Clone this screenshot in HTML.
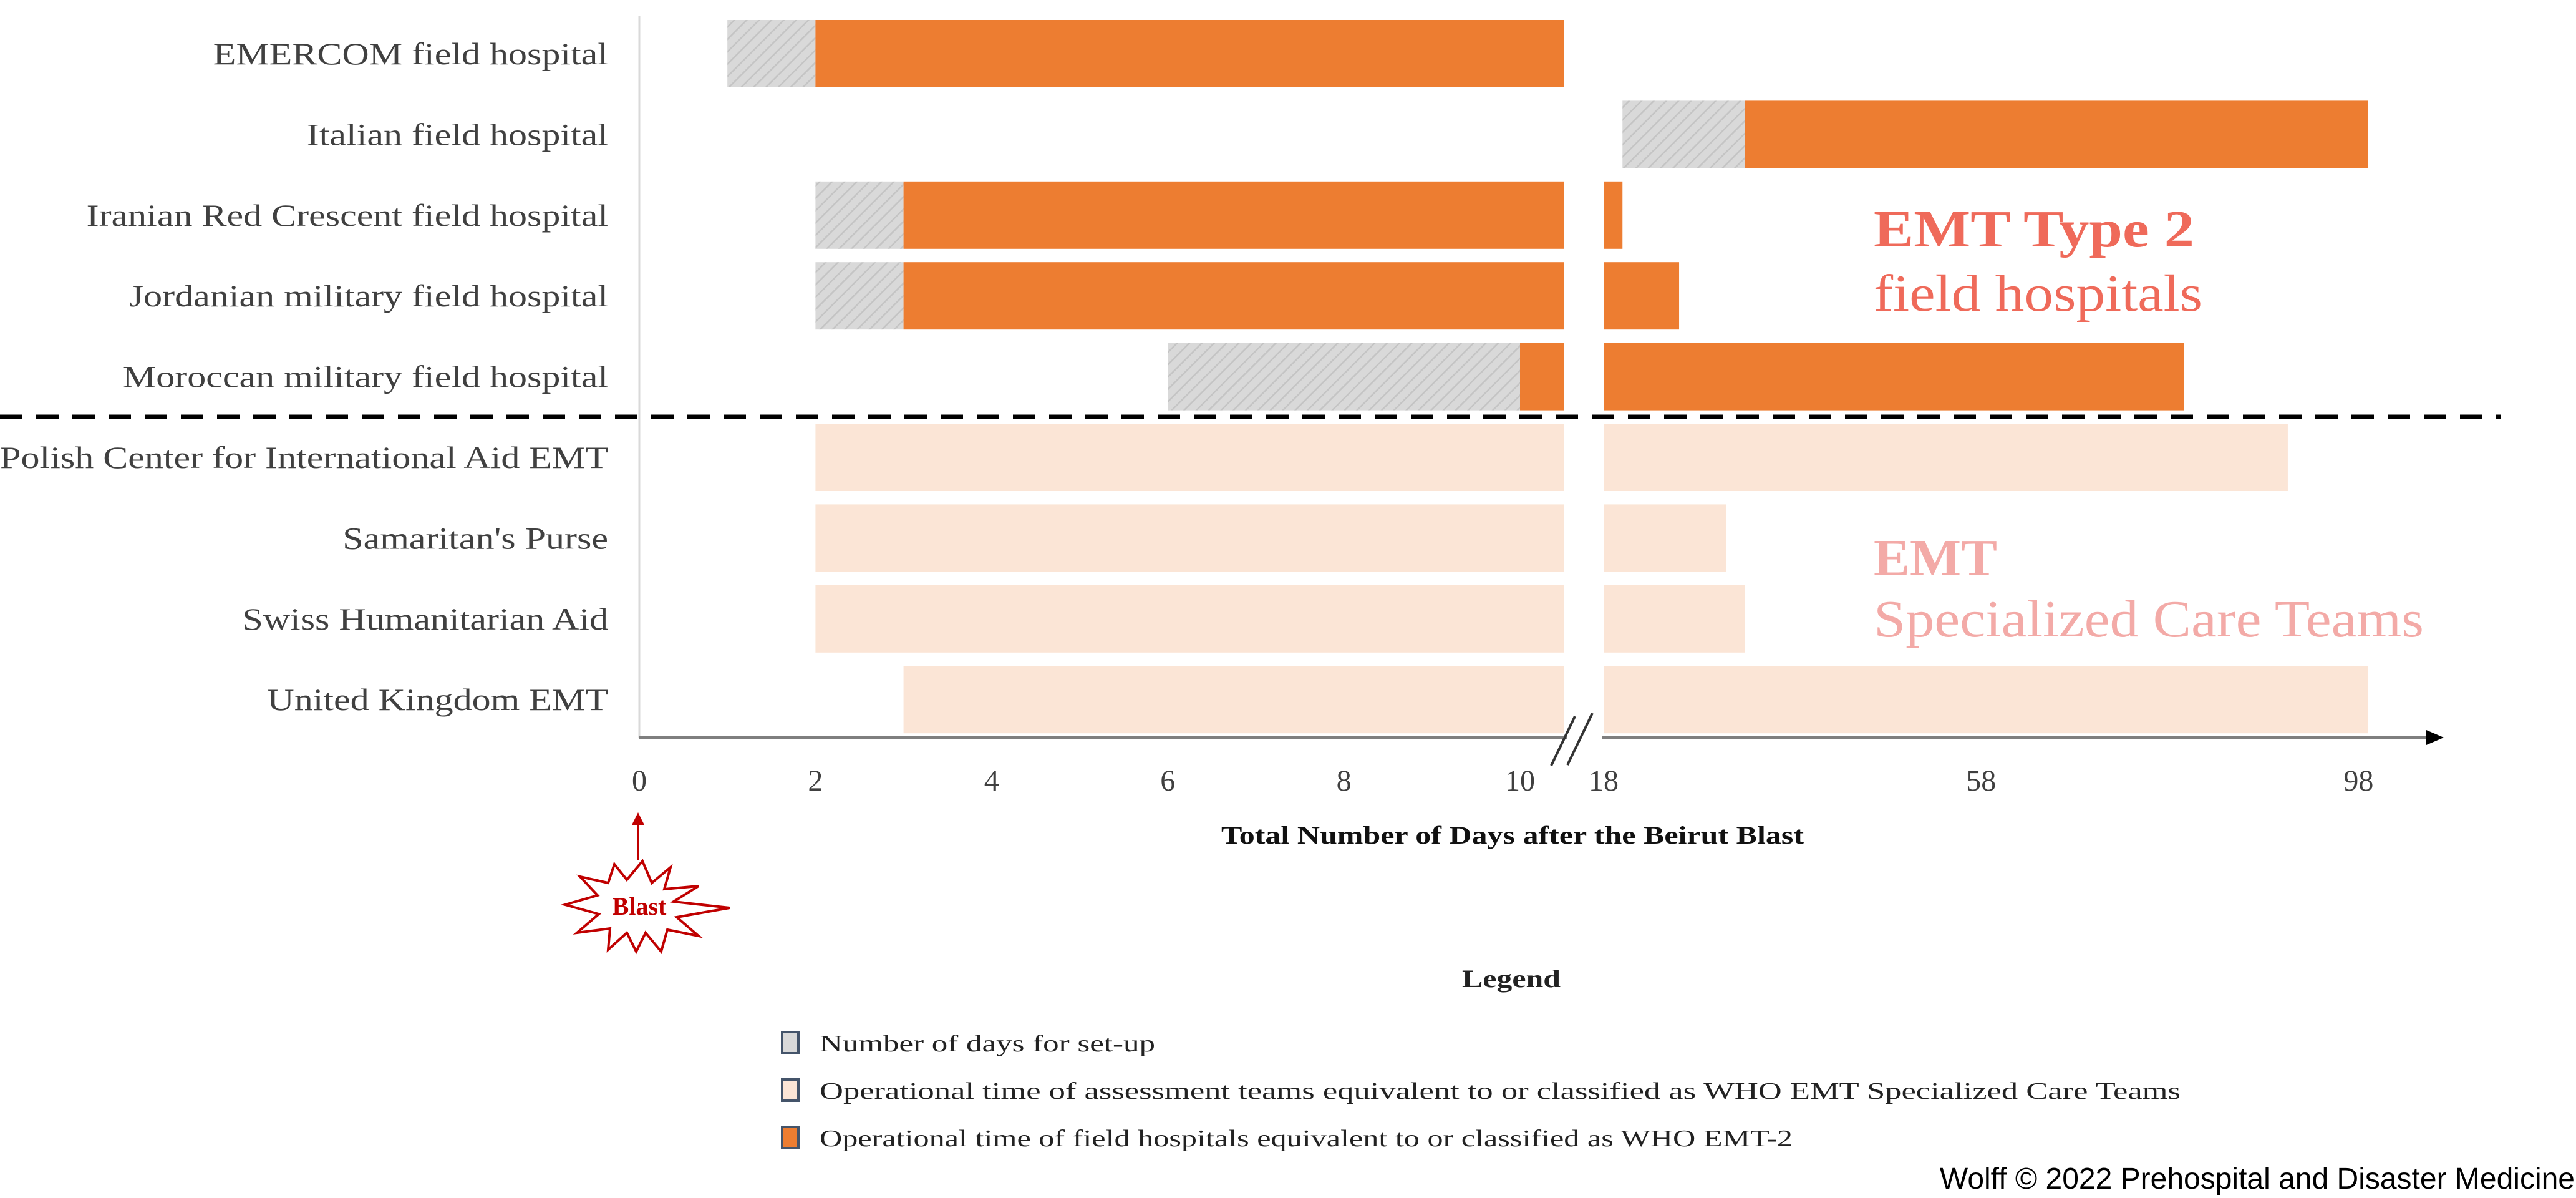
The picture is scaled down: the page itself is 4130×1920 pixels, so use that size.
<!DOCTYPE html>
<html><head><meta charset="utf-8"><style>
html,body{margin:0;padding:0;background:#fff;}
svg{display:block;}
text{font-family:"Liberation Serif","DejaVu Serif",serif;}
</style></head><body>
<svg id="chart" width="4130" height="1920" viewBox="0 0 4130 1920" xmlns="http://www.w3.org/2000/svg">
<defs>
<pattern id="hatch" width="14" height="14" patternUnits="userSpaceOnUse" patternTransform="rotate(45)">
<rect width="14" height="14" fill="#d9d9d9"/><line x1="0" y1="0" x2="0" y2="14" stroke="#c4c4c4" stroke-width="5"/>
</pattern>
</defs>
<line x1="1025" y1="25" x2="1025" y2="1182" stroke="#d9d9d9" stroke-width="3"/>
<g id="bars"></g>
<g id="labels"></g>
<line x1="0" y1="668" x2="4010" y2="668" stroke="#000" stroke-width="7" stroke-dasharray="36,22"/>
<line x1="1025" y1="1182" x2="3900" y2="1182" stroke="#7f7f7f" stroke-width="5"/>
<polygon points="3890,1170 3918,1182 3890,1194" fill="#000"/>
<rect x="2513" y="1170" width="55" height="20" fill="#fff"/>
<line x1="2487" y1="1227" x2="2525" y2="1148" stroke="#333" stroke-width="4"/>
<line x1="2513" y1="1226" x2="2553" y2="1143" stroke="#333" stroke-width="4"/>
<g id="ticks"></g>
<text x="1958" y="1352" font-size="40" font-weight="bold" fill="#111" textLength="934" lengthAdjust="spacingAndGlyphs">Total Number of Days after the Beirut Blast</text>
<text x="3004" y="395" font-size="84" font-weight="bold" fill="#ef6a5a" textLength="514" lengthAdjust="spacingAndGlyphs">EMT Type 2</text>
<text x="3004" y="498" font-size="84" fill="#ef6a5a" textLength="527" lengthAdjust="spacingAndGlyphs">field hospitals</text>
<text x="3004" y="922" font-size="84" font-weight="bold" fill="#f3aaa7" textLength="198" lengthAdjust="spacingAndGlyphs">EMT</text>
<text x="3004" y="1020" font-size="84" fill="#f3aaa7" textLength="882" lengthAdjust="spacingAndGlyphs">Specialized Care Teams</text>
<g>
<line x1="1023" y1="1378" x2="1023" y2="1318" stroke="#c00000" stroke-width="3"/>
<polygon points="1023,1302 1013,1322 1033,1322" fill="#c00000"/>
<polygon points="1030,1380 1045,1415 1075,1390 1065,1425 1120,1420 1080,1445 1170,1455 1085,1470 1120,1500 1070,1490 1060,1525 1035,1495 1020,1525 1005,1495 975,1522 978,1488 925,1495 960,1465 906,1450 958,1435 930,1405 975,1415 985,1385 1005,1410" fill="#fff" stroke="#c00000" stroke-width="4"/>
<text x="1025" y="1466" font-size="40" font-weight="bold" fill="#c00000" text-anchor="middle">Blast</text>
</g>
<text x="2344" y="1582" font-size="40" font-weight="bold" fill="#222" textLength="158" lengthAdjust="spacingAndGlyphs">Legend</text>
<g>
<rect x="1254" y="1654" width="26" height="34" fill="#d9d9d9" stroke="#44546a" stroke-width="4"/>
<text x="1314" y="1685" font-size="38" fill="#222" textLength="538" lengthAdjust="spacingAndGlyphs">Number of days for set-up</text></g>
<g>
<rect x="1254" y="1730" width="26" height="34" fill="#fbe5d6" stroke="#44546a" stroke-width="4"/>
<text x="1314" y="1761" font-size="38" fill="#222" textLength="2182" lengthAdjust="spacingAndGlyphs">Operational time of assessment teams equivalent to or classified as WHO EMT Specialized Care Teams</text></g>
<g>
<rect x="1254" y="1806" width="26" height="34" fill="#ed7d31" stroke="#44546a" stroke-width="4"/>
<text x="1314" y="1837" font-size="38" fill="#222" textLength="1560" lengthAdjust="spacingAndGlyphs">Operational time of field hospitals equivalent to or classified as WHO EMT-2</text></g>
<text x="4128" y="1905" font-size="48" text-anchor="end" style="font-family:'Liberation Sans',sans-serif" fill="#000">Wolff © 2022 Prehospital and Disaster Medicine</text>
</svg>
<script>
const teams = ["EMERCOM field hospital","Italian field hospital","Iranian Red Crescent field hospital","Jordanian military field hospital","Moroccan military field hospital","Polish Center for International Aid EMT","Samaritan's Purse","Swiss Humanitarian Aid","United Kingdom EMT"];
const teamType = ["emt2","emt2","emt2","emt2","emt2","sct","sct","sct","sct"];
const setupStart = [1,20,2,2,6,null,null,null,null];
const opStart = [2,33,3,3,10,2,2,2,3];
const opEnd = [10.5,99,20,26,79.5,90.5,31,33,99];
const tickValues = [0,2,4,6,8,10,18,58,98];
const tickLabels = ["0","2","4","6","8","10","18","58","98"];
const breakLow = 10.5, breakHigh = 18;

const NS="http://www.w3.org/2000/svg";
function xScale(d){ return d<=breakLow ? 1025 + 141.2*d : 2571 + 15.13*(d-breakHigh); }
function yCenter(i){ return 86 + 129.4*i; }
const barH = 108;
const bars=document.getElementById('bars');
function addRect(x0,x1,yc,fill,name){
  const r=document.createElementNS(NS,'rect');
  r.setAttribute('x',x0); r.setAttribute('y',yc-barH/2);
  r.setAttribute('width',Math.max(0,x1-x0)); r.setAttribute('height',barH);
  r.setAttribute('fill',fill);
  
  
  bars.appendChild(r);
}
function addSpan(a,b,yc,fill,name){
  if(a<breakLow){ addRect(xScale(a), xScale(Math.min(b,breakLow)), yc, fill, name); }
  if(b>breakLow){ addRect(xScale(Math.max(a,breakHigh)), xScale(b), yc, fill, name); }
}
teams.forEach((t,i)=>{
  const yc=yCenter(i);
  if(setupStart[i]!==null) addSpan(setupStart[i], opStart[i], yc, 'url(#hatch)', 'setup-bar');
  addSpan(opStart[i], opEnd[i], yc, teamType[i]==='emt2' ? '#ed7d31' : '#fbe5d6', 'operational-bar');
  const tx=document.createElementNS(NS,'text');
  tx.setAttribute('x',975); tx.setAttribute('y',yc+17);
  tx.setAttribute('font-size','50'); tx.setAttribute('text-anchor','end'); tx.setAttribute('fill','#404040');
  tx.textContent=t;
  
  
  document.getElementById('labels').appendChild(tx);
  const len = tx.getComputedTextLength();
  tx.setAttribute('textLength', len*1.2);
  tx.setAttribute('lengthAdjust','spacingAndGlyphs');
});
const ticks=document.getElementById('ticks');
tickValues.forEach((v,i)=>{
  const tx=document.createElementNS(NS,'text');
  tx.setAttribute('x',xScale(v)); tx.setAttribute('y',1267);
  tx.setAttribute('font-size','48'); tx.setAttribute('text-anchor','middle'); tx.setAttribute('fill','#404040');
  tx.textContent=tickLabels[i];
  
  
  ticks.appendChild(tx);
});
</script>
</body></html>
